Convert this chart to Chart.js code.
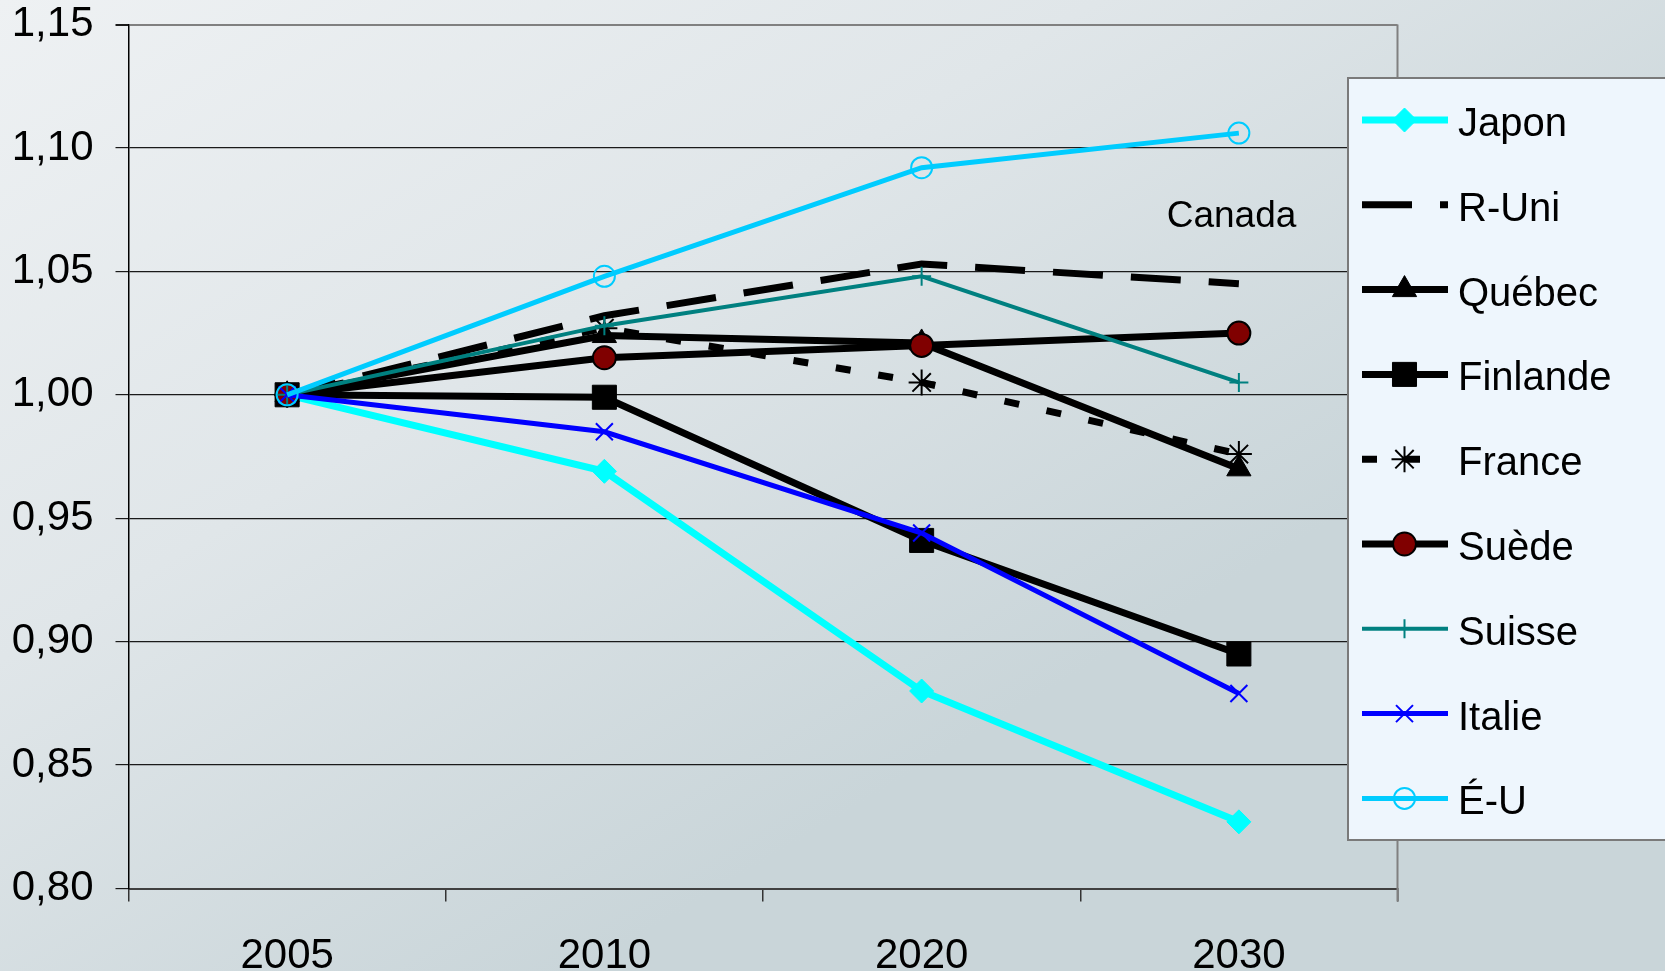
<!DOCTYPE html>
<html><head><meta charset="utf-8">
<script src="https://cdn.jsdelivr.net/npm/chart.js@4"></script>
<style>html,body{margin:0;padding:0;background:#e2e7ea;overflow:hidden}canvas{display:block}</style>
</head><body>
<canvas id="c" width="1665" height="971"></canvas>
<script>
// ---- data ----
const years = ['2005', '2010', '2020', '2030'];
const yTickLabels = ['0,80', '0,85', '0,90', '0,95', '1,00', '1,05', '1,10', '1,15'];
const seriesNames = ['Japon', 'R-Uni', 'Québec', 'Finlande', 'France', 'Suède', 'Suisse', 'Italie', 'É-U'];
const japon    = [1.000, 0.969, 0.880, 0.827];
const rUni     = [1.000, 1.032, 1.053, 1.045];
const quebec   = [1.000, 1.024, 1.021, 0.970];
const finlande = [1.000, 0.999, 0.941, 0.895];
const france   = [1.000, 1.027, 1.005, 0.976];
const suede    = [1.000, 1.015, 1.020, 1.025];
const suisse   = [1.000, 1.028, 1.048, 1.005];
const italie   = [1.000, 0.985, 0.944, 0.879];
const eu       = [1.000, 1.048, 1.092, 1.106];
const noteText = 'Canada';

const FONT = '"Liberation Sans", Arial, sans-serif';

// ---- styles ----
const styles = [
  { data: japon,    color: '#00FFFF', width: 7,   dash: [],       point: 'rectRot',  r: 12,  fill: '#00FFFF', pbw: 1 },
  { data: rUni,     color: '#000000', width: 7,   dash: [50, 28], point: false,      r: 0,   fill: '#000',    pbw: 0 },
  { data: quebec,   color: '#000000', width: 7,   dash: [],       point: 'triangle', r: 14,  fill: '#000',    pbw: 1 },
  { data: finlande, color: '#000000', width: 7,   dash: [],       point: 'rect',     r: 17,  fill: '#000',    pbw: 1 },
  { data: france,   color: '#000000', width: 7,   dash: [15, 28], point: 'star',     r: 13,  fill: '#000',    pbw: 2 },
  { data: suede,    color: '#000000', width: 7,   dash: [],       point: 'circle',   r: 11.5,fill: '#800000', pbw: 2 },
  { data: suisse,   color: '#008080', width: 4,   dash: [],       point: 'cross',    r: 9.5, fill: '#008080', pbw: 2 },
  { data: italie,   color: '#0000FF', width: 5,   dash: [],       point: 'crossRot', r: 12,  fill: '#0000FF', pbw: 2 },
  { data: eu,       color: '#00CCFF', width: 5,   dash: [],       point: 'circle',   r: 10.5,fill: 'rgba(0,0,0,0)', pbw: 2 }
];
const markerBorder = ['#00FFFF', '#000', '#000', '#000', '#000', '#000', '#008080', '#0000FF', '#00CCFF'];

const datasets = styles.map((s, i) => ({
  label: seriesNames[i],
  data: s.data,
  borderColor: s.color,
  borderWidth: s.width,
  borderDash: s.dash,
  tension: 0,
  fill: false,
  pointStyle: s.point,
  pointRadius: s.point ? s.r : 0,
  pointBackgroundColor: s.fill,
  pointBorderColor: markerBorder[i],
  pointBorderWidth: s.pbw,
  order: styles.length - i
}));

// ---- plugins ----
const bgPlugin = {
  id: 'bg',
  beforeDraw(chart) {
    const { ctx, width, height } = chart;
    ctx.save();
    const g = ctx.createLinearGradient(0, 0, width * 0.35, height);
    g.addColorStop(0, '#eef1f3');
    g.addColorStop(0.5, '#e0e6e9');
    g.addColorStop(1, '#c9d5d9');
    ctx.fillStyle = g;
    ctx.fillRect(0, 0, width, height);
    ctx.restore();
  }
};

const framePlugin = {
  id: 'frame',
  afterDatasetsDraw(chart) {
    const { ctx, chartArea: a } = chart;
    ctx.save();
    ctx.strokeStyle = '#808080';
    ctx.lineWidth = 2;
    ctx.beginPath();
    ctx.moveTo(a.right, a.top);
    ctx.lineTo(a.right, a.bottom + 13);
    ctx.stroke();
    // note label
    ctx.fillStyle = '#000';
    ctx.font = '37px ' + FONT;
    ctx.textAlign = 'center';
    ctx.textBaseline = 'middle';
    ctx.fillText(noteText, 1231.5, 217);
    ctx.restore();
  }
};

const legendPlugin = {
  id: 'boxLegend',
  afterDraw(chart) {
    const ctx = chart.ctx;
    ctx.save();
    const bx = 1348, by = 78, bw = 330, bh = 762;
    ctx.fillStyle = '#eef6fd';
    ctx.fillRect(bx, by, bw, bh);
    ctx.strokeStyle = '#7a7a7a';
    ctx.lineWidth = 2;
    ctx.strokeRect(bx, by, bw, bh);
    const x0 = 1362, x1 = 1448, xm = 1404.5, tx = 1458;
    chart.data.datasets.forEach((ds, i) => {
      const y = 120 + i * 84.8;
      ctx.save();
      ctx.setLineDash(ds.borderDash || []);
      ctx.lineWidth = ds.borderWidth;
      ctx.strokeStyle = ds.borderColor;
      ctx.lineCap = 'butt';
      ctx.beginPath();
      ctx.moveTo(x0, y);
      ctx.lineTo(x1, y);
      ctx.stroke();
      ctx.restore();
      if (ds.pointStyle) {
        ctx.save();
        ctx.fillStyle = ds.pointBackgroundColor;
        ctx.strokeStyle = ds.pointBorderColor;
        ctx.lineWidth = ds.pointBorderWidth;
        ctx.setLineDash([]);
        Chart.helpers.drawPoint(ctx, {
          pointStyle: ds.pointStyle, radius: ds.pointRadius, rotation: 0, borderWidth: ds.pointBorderWidth
        }, xm, y);
        ctx.restore();
      }
      ctx.fillStyle = '#000';
      ctx.font = '40px ' + FONT;
      ctx.textAlign = 'left';
      ctx.textBaseline = 'middle';
      ctx.fillText(ds.label, tx, y + 5);
    });
    ctx.restore();
  }
};

new Chart(document.getElementById('c'), {
  type: 'line',
  data: { labels: years, datasets },
  plugins: [bgPlugin, framePlugin, legendPlugin],
  options: {
    responsive: false,
    devicePixelRatio: 1,
    animation: false,
    events: [],
    layout: { padding: { left: 0, top: 0, right: 267.5, bottom: 0 } },
    plugins: { legend: { display: false }, tooltip: { enabled: false }, title: { display: false } },
    scales: {
      x: {
        offset: true,
        ticks: { padding: 30, color: '#000', font: { family: FONT, size: 42 }, maxRotation: 0, autoSkip: false },
        grid: { offset: true, drawOnChartArea: false, drawTicks: true, tickLength: 13, tickColor: '#333', lineWidth: 1.5 },
        border: { display: true, color: '#404040', width: 2 },
        afterFit: s => { s.height = 82.5; s.paddingLeft = 0; s.paddingRight = 0; }
      },
      y: {
        min: 0.8, max: 1.15,
        ticks: {
          stepSize: 0.05, padding: 22, color: '#000', font: { family: FONT, size: 42 },
          callback: v => yTickLabels[Math.round((v - 0.8) / 0.05)]
        },
        grid: {
          color: c => (c.index === 7 ? '#808080' : '#1a1a1a'),
          lineWidth: c => (c.index === 7 ? 2 : 1.2),
          drawTicks: true, tickLength: 13, tickColor: '#1a1a1a'
        },
        border: { display: true, color: '#000', width: 1.5 },
        afterFit: s => { s.width = 128.5; s.paddingTop = 24.5; s.paddingBottom = 0; }
      }
    }
  }
});
</script>
</body></html>
